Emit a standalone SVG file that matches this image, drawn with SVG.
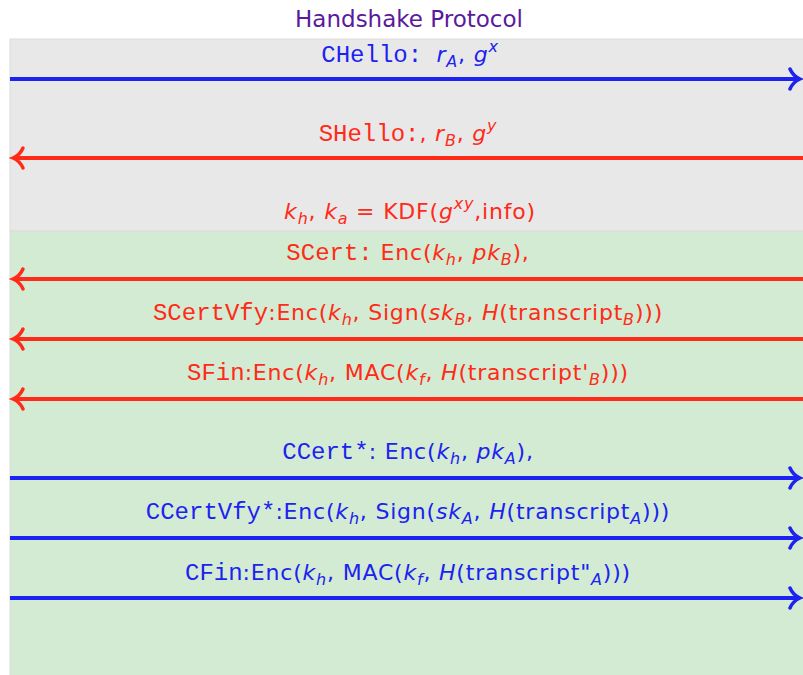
<svg xmlns="http://www.w3.org/2000/svg" width="803" height="675" viewBox="0 0 803 675">
<style>
.t{font-family:"DejaVu Sans","Liberation Sans",sans-serif;font-size:22px;letter-spacing:0.8px;text-anchor:middle}
.m{font-family:"Liberation Mono",monospace;font-size:24px;letter-spacing:0}
.i{font-style:italic}
.s{font-style:italic;font-size:16px}
.r{fill:#ff2a17}
.b{fill:#1c22f0}
.ar{stroke:#ff2a17;stroke-width:4;fill:none}
.ab{stroke:#1c22f0;stroke-width:4;fill:none}
</style>
<defs>
<marker id="hb" markerUnits="userSpaceOnUse" markerWidth="20" markerHeight="24" refX="14" refY="12" orient="auto" overflow="visible">
<path d="M4,2 Q7,9 14,12 Q7,15 4,22" fill="none" stroke="#1c22f0" stroke-width="3.5" stroke-linecap="round"/>
</marker>
<marker id="hr" markerUnits="userSpaceOnUse" markerWidth="20" markerHeight="24" refX="14" refY="12" orient="auto" overflow="visible">
<path d="M4,2 Q7,9 14,12 Q7,15 4,22" fill="none" stroke="#ff2a17" stroke-width="3.5" stroke-linecap="round"/>
</marker>
</defs>
<rect width="803" height="675" fill="#ffffff"/>
<g id="title"><text x="409" y="27" style="font-family:'DejaVu Sans','Liberation Sans',sans-serif;font-size:23px;text-anchor:middle;fill:#5a1a9c">Handshake Protocol</text></g>
<g id="phase1"><rect x="10" y="39" width="800" height="192" fill="#e8e8e8" stroke="#dcdcdc" stroke-width="1"/></g>
<g id="phase2"><rect x="10" y="231" width="800" height="450" fill="#d2ebd2" stroke="#dcdcdc" stroke-width="1"/></g>
<g id="connectors">
<line class="ab" x1="10" y1="79" x2="800" y2="79" marker-end="url(#hb)"/>
<line class="ar" x1="803" y1="158" x2="13" y2="158" marker-end="url(#hr)"/>
<line class="ar" x1="803" y1="279" x2="13" y2="279" marker-end="url(#hr)"/>
<line class="ar" x1="803" y1="339" x2="13" y2="339" marker-end="url(#hr)"/>
<line class="ar" x1="803" y1="399" x2="13" y2="399" marker-end="url(#hr)"/>
<line class="ab" x1="10" y1="478" x2="800" y2="478" marker-end="url(#hb)"/>
<line class="ab" x1="10" y1="538" x2="800" y2="538" marker-end="url(#hb)"/>
<line class="ab" x1="10" y1="598" x2="800" y2="598" marker-end="url(#hb)"/>
</g>
<g id="labels">
<text class="t b" x="410" y="62"><tspan class="m">CHello: </tspan><tspan class="i">r</tspan><tspan class="s" dy="5">A</tspan><tspan dy="-5">, </tspan><tspan class="i">g</tspan><tspan class="s" dy="-10">x</tspan></text>
<text class="t r" x="408" y="141"><tspan class="m">SHello:</tspan>, <tspan class="i">r</tspan><tspan class="s" dy="5">B</tspan><tspan dy="-5">, </tspan><tspan class="i">g</tspan><tspan class="s" dy="-10">y</tspan></text>
<text class="t r" x="410" y="219"><tspan class="i">k</tspan><tspan class="s" dy="5">h</tspan><tspan dy="-5">, </tspan><tspan class="i">k</tspan><tspan class="s" dy="5">a</tspan><tspan dy="-5"> = KDF(</tspan><tspan class="i">g</tspan><tspan class="s" dy="-10">xy</tspan><tspan dy="10">,info)</tspan></text>
<text class="t r" x="408" y="260"><tspan class="m">SCert:</tspan> Enc(<tspan class="i">k</tspan><tspan class="s" dy="5">h</tspan><tspan dy="-5">, </tspan><tspan class="i">pk</tspan><tspan class="s" dy="5">B</tspan><tspan dy="-5">),</tspan></text>
<text class="t r" x="408" y="320"><tspan class="m">SCertVfy</tspan>:Enc(<tspan class="i">k</tspan><tspan class="s" dy="5">h</tspan><tspan dy="-5">, Sign(</tspan><tspan class="i">sk</tspan><tspan class="s" dy="5">B</tspan><tspan dy="-5">, </tspan><tspan class="i">H</tspan>(transcript<tspan class="s" dy="5">B</tspan><tspan dy="-5">)))</tspan></text>
<text class="t r" x="408" y="380"><tspan class="m">SFin</tspan>:Enc(<tspan class="i">k</tspan><tspan class="s" dy="5">h</tspan><tspan dy="-5">, MAC(</tspan><tspan class="i">k</tspan><tspan class="s" dy="5">f</tspan><tspan dy="-5">, </tspan><tspan class="i">H</tspan>(transcript'<tspan class="s" dy="5">B</tspan><tspan dy="-5">)))</tspan></text>
<text class="t b" x="408" y="459"><tspan class="m">CCert*</tspan>: Enc(<tspan class="i">k</tspan><tspan class="s" dy="5">h</tspan><tspan dy="-5">, </tspan><tspan class="i">pk</tspan><tspan class="s" dy="5">A</tspan><tspan dy="-5">),</tspan></text>
<text class="t b" x="408" y="519"><tspan class="m">CCertVfy*</tspan>:Enc(<tspan class="i">k</tspan><tspan class="s" dy="5">h</tspan><tspan dy="-5">, Sign(</tspan><tspan class="i">sk</tspan><tspan class="s" dy="5">A</tspan><tspan dy="-5">, </tspan><tspan class="i">H</tspan>(transcript<tspan class="s" dy="5">A</tspan><tspan dy="-5">)))</tspan></text>
<text class="t b" x="408" y="580"><tspan class="m">CFin</tspan>:Enc(<tspan class="i">k</tspan><tspan class="s" dy="5">h</tspan><tspan dy="-5">, MAC(</tspan><tspan class="i">k</tspan><tspan class="s" dy="5">f</tspan><tspan dy="-5">, </tspan><tspan class="i">H</tspan>(transcript"<tspan class="s" dy="5">A</tspan><tspan dy="-5">)))</tspan></text>
</g>
</svg>
